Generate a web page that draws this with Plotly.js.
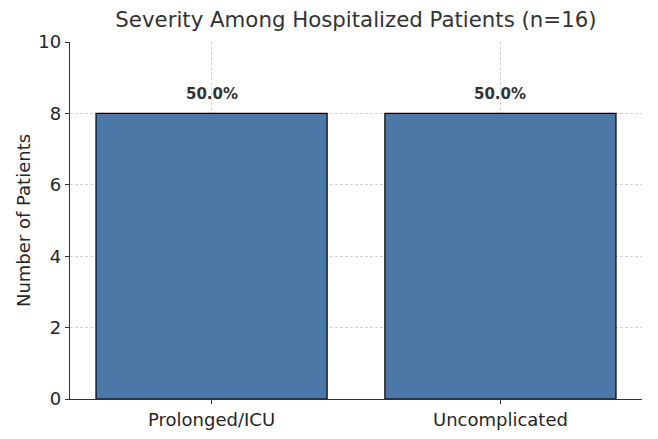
<!DOCTYPE html>
<html>
<head>
<meta charset="utf-8">
<script src="https://cdn.plot.ly/plotly-3.0.1.min.js"></script>
<style>
  html, body { margin: 0; padding: 0; background: #fff; }
  #chart { width: 658px; height: 439px; }
</style>
</head>
<body>
<div id="chart"></div>
<script>
// severity groups and counts
var categorias = ['Prolonged/ICU', 'Uncomplicated'];
var pacientes = [8, 8];
var porcentajes = ['50.0%', '50.0%'];

var barras = {
  x: categorias,
  y: pacientes,
  type: 'bar',
  width: 0.8,
  marker: { color: '#4C78A8', line: { color: '#000', width: 1.2 } },
  hoverinfo: 'skip'
};

var etiquetas = categorias.map(function (c, i) {
  return {
    x: c, y: pacientes[i] + 0.55, text: '<b>' + porcentajes[i] + '</b>',
    showarrow: false, font: { family: 'DejaVu Sans', size: 15, color: '#333' }
  };
});

var layout = {
  width: 658, height: 439,
  margin: { l: 70, r: 16, t: 42, b: 40 },
  paper_bgcolor: '#fff', plot_bgcolor: '#fff',
  font: { family: 'DejaVu Sans', color: '#262626' },
  title: { text: 'Severity Among Hospitalized Patients (n=16)', x: 0.541, xanchor: 'center', y: 0.972, yanchor: 'top',
           font: { size: 21.3, color: '#333' } },
  xaxis: {
    range: [-0.49, 1.49], showline: true, linecolor: '#333', linewidth: 1.2,
    ticks: 'outside', ticklen: 4, tickcolor: '#333', tickfont: { size: 18 },
    showgrid: true, gridcolor: 'rgba(170,170,170,0.65)', griddash: '3px,2px', gridwidth: 0.8,
    layer: 'above traces', zeroline: false
  },
  yaxis: {
    range: [0, 10], dtick: 2, showline: true, linecolor: '#333', linewidth: 1.2,
    ticks: 'outside', ticklen: 4, tickcolor: '#333', tickfont: { size: 18 },
    showgrid: true, gridcolor: 'rgba(170,170,170,0.65)', griddash: '3px,2px', gridwidth: 0.8,
    layer: 'above traces', zeroline: false,
    title: { text: 'Number of Patients', font: { size: 18 }, standoff: 3 }
  },
  annotations: etiquetas,
  showlegend: false
};

Plotly.newPlot('chart', [barras], layout, { displayModeBar: false, staticPlot: true });
</script>
</body>
</html>
